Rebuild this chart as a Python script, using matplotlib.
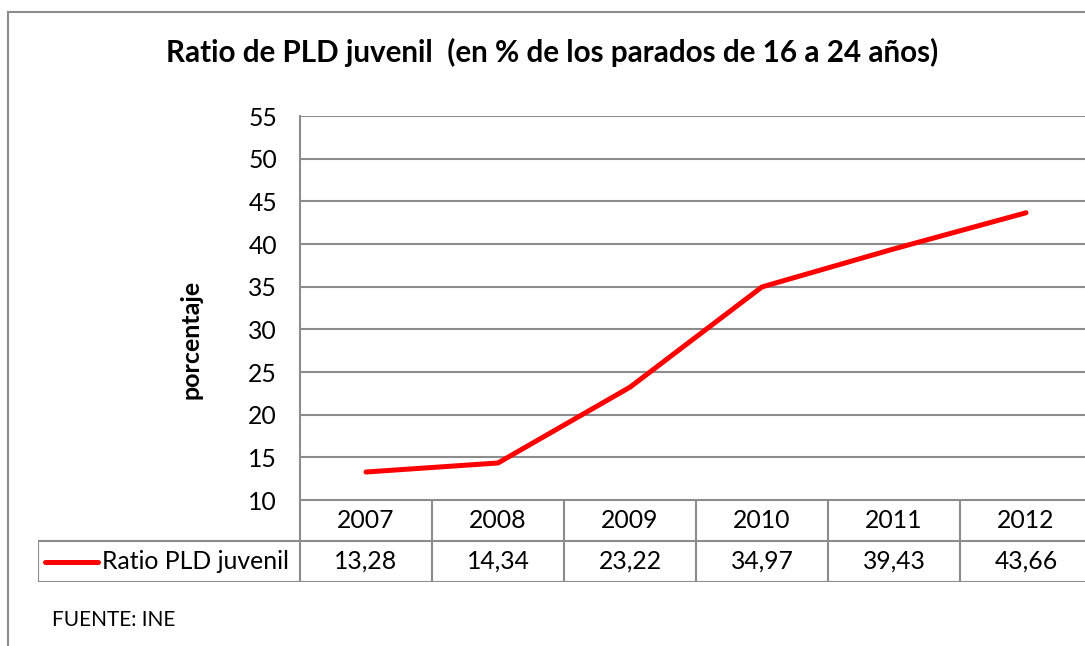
import matplotlib.pyplot as plt
from matplotlib.lines import Line2D

# datos
years = ["2007", "2008", "2009", "2010", "2011", "2012"]
ratio = [13.28, 14.34, 23.22, 34.97, 39.43, 43.66]
ratio_labels = ["13,28", "14,34", "23,22", "34,97", "39,43", "43,66"]
y_ticks = [10, 15, 20, 25, 30, 35, 40, 45, 50, 55]
series_name = "Ratio PLD juvenil"

plt.rcParams['font.family'] = ['Lato', 'DejaVu Sans']
W, H = 1085, 646
grey = "#8c8c8c"
red = "#ff0000"
fs = 17.8

fig = plt.figure(figsize=(W / 100, H / 100), dpi=100)

# area del grafico (px): x 300-1092, y 116-500
ax = fig.add_axes([300 / W, (H - 500) / H, 792 / W, 384 / H])
x = list(range(len(years)))
ax.plot(x, ratio, color=red, lw=3.6, solid_capstyle="round", solid_joinstyle="round", zorder=3)
ax.set_xlim(-0.5, len(years) - 0.5)
ax.set_ylim(10, 55)
ax.set_yticks(y_ticks)
ax.set_yticklabels([str(v) for v in y_ticks], fontsize=fs)
ax.tick_params(axis="y", length=0, pad=16.5)
ax.set_xticks([])
ax.grid(axis="y", color=grey, lw=1.5)
for s in ["top", "right", "bottom"]:
    ax.spines[s].set_visible(False)
ax.spines["left"].set_color(grey)
ax.spines["left"].set_linewidth(1.5)
ax.set_ylabel("porcentaje", fontsize=18, fontweight="bold")
ax.yaxis.set_label_coords(-97 / 792, (500 - 339) / 384)

# tabla de datos debajo
tax = fig.add_axes([38 / W, (H - 582) / H, (1092 - 38) / W, 82 / H])
off = 262 / 132
tax.set_xlim(-0.5 - off, len(years) - 0.5)
tax.set_ylim(0, 2)
tax.axis("off")
tax.hlines(2, -0.5, len(years) - 0.5, color=grey, lw=1.5)
tax.hlines([0, 1], -0.5 - off, len(years) - 0.5, color=grey, lw=1.5)
tax.vlines(-0.5 - off, 0, 1, color=grey, lw=1.5)
for i in range(len(years)):
    tax.vlines(i - 0.5, 0, 2, color=grey, lw=1.5)
    tax.text(i, 1.5, years[i], ha="center", va="center", fontsize=fs)
    tax.text(i, 0.5, ratio_labels[i], ha="center", va="center", fontsize=fs)
tax.plot([-0.5 - off + 7 / 132, -0.5 - off + 60 / 132], [0.5, 0.5], color=red, lw=3.6,
         solid_capstyle="round")
tax.text(-0.5 - off + 64 / 132, 0.5, series_name, ha="left", va="center", fontsize=fs)

# titulo y fuente
fig.text(552 / W, 1 - 52 / H, "Ratio de PLD juvenil  (en % de los parados de 16 a 24 años)",
         ha="center", va="center", fontsize=21.3, fontweight="bold")
fig.text(52 / W, 1 - 620 / H, "FUENTE: INE", ha="left", va="center", fontsize=15)

# borde del grafico
fig.add_artist(Line2D([8 / W, 8 / W], [0, 1 - 12 / H], color=grey, lw=1.5, transform=fig.transFigure))
fig.add_artist(Line2D([8 / W, 1], [1 - 12 / H, 1 - 12 / H], color=grey, lw=1.5, transform=fig.transFigure))

fig.savefig("out.png", dpi=100)
